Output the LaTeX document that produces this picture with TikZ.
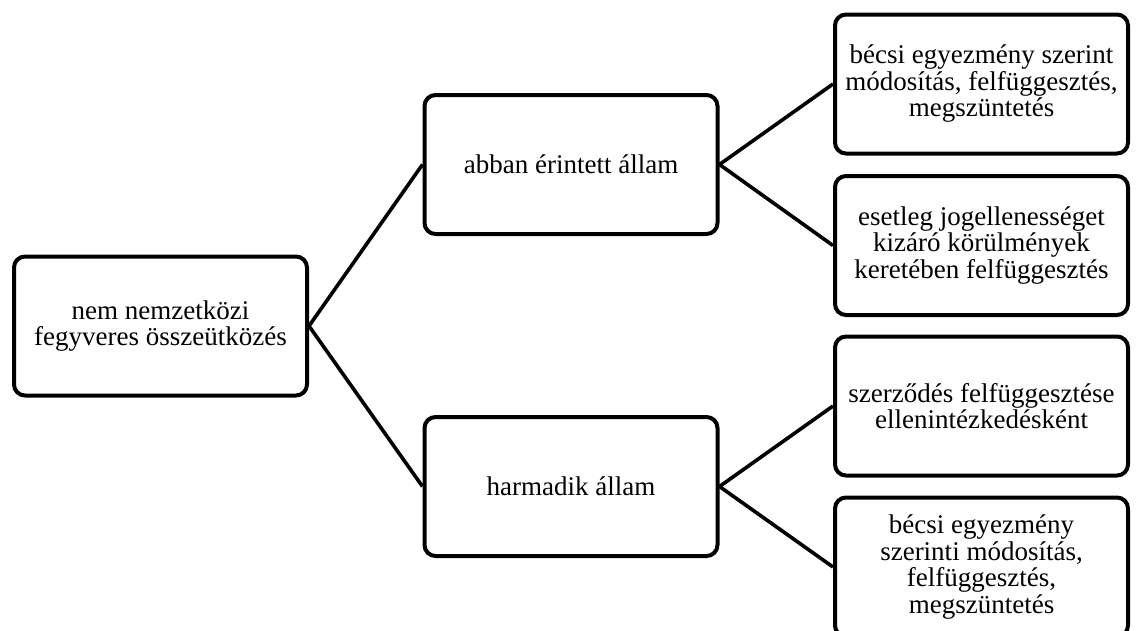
\documentclass[tikz,border=0pt]{standalone}
\usepackage{fontspec}
\setmainfont{Liberation Serif}
\begin{document}
\begin{tikzpicture}[x=1pt,y=-1pt,
  box/.style={draw=black, line width=4pt, rounded corners=11pt, fill=white,
    minimum width=293pt, minimum height=139pt, align=center, inner sep=2pt,
    font=\fontsize{27}{26.5}\selectfont},
  conn/.style={draw=black, line width=3.6pt}]
\useasboundingbox (0,0) rectangle (1141,630);
\node[box] (root) at (160.5,326) {nem nemzetközi\\fegyveres összeütközés};
\node[box] (abban) at (571,164.5) {abban érintett állam};
\node[box] (harm) at (571,486.5) {harmadik állam};
\node[box] (b1) at (981.5,84) {bécsi egyezmény szerint\\módosítás, felfüggesztés,\\megszüntetés};
\node[box] (b2) at (981.5,245.5) {esetleg jogellenességet\\kizáró körülmények\\keretében felfüggesztés};
\node[box] (b3) at (981.5,406) {szerződés felfüggesztése\\ellenintézkedésként};
\node[box] (b4) at (981.5,567) {bécsi egyezmény\\szerinti módosítás,\\felfüggesztés,\\megszüntetés};
\draw[conn] (root.east) -- (abban.west);
\draw[conn] (root.east) -- (harm.west);
\draw[conn] (abban.east) -- (b1.west);
\draw[conn] (abban.east) -- (b2.west);
\draw[conn] (harm.east) -- (b3.west);
\draw[conn] (harm.east) -- (b4.west);
\end{tikzpicture}
\end{document}
